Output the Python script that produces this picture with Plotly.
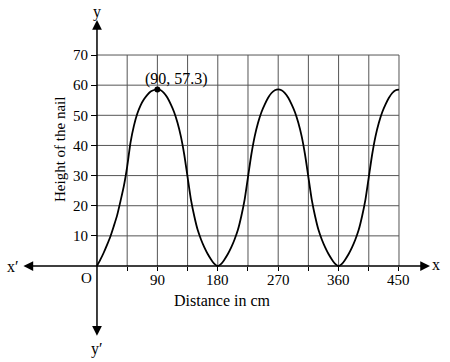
import plotly.graph_objects as go

# ---- data ----
distance_cm = list(range(0, 451, 5))
height = [
    0, 2.1, 4.4, 7, 9.8, 13.2, 16.8, 21.5, 26.5, 33, 41, 46.5, 50.5, 53.3, 55.3, 56.8, 57.9, 58.4, 58.6,
    58.3, 57.4, 55.8, 53.6, 51, 47.5, 43, 37, 29.5, 22, 16.5, 12, 8.8, 6.2, 4, 2.2, 0.7, 0,
    0.7, 2.2, 4, 6.2, 8.8, 12, 16.5, 22, 29.5, 37, 43, 47.5, 51, 53.6, 55.8, 57.4, 58.3, 58.6,
    58.3, 57.4, 55.8, 53.6, 51, 47.5, 43, 37, 29.5, 22, 16.5, 12, 8.8, 6.2, 4, 2.2, 0.7, 0,
    0.7, 2.2, 4, 6.2, 8.8, 12, 16.5, 22, 29.5, 37, 43, 47.5, 51, 53.6, 55.8, 57.4, 58.3, 58.5,
]
peak_x = [90]
peak_y = [58.6]
peak_label = "(90, 57.3)"

x_grid = [45, 90, 135, 180, 225, 270, 315, 360, 405, 450]
x_tick_text = ["", "90", "", "180", "", "270", "", "360", "", "450"]
y_grid = [10, 20, 30, 40, 50, 60, 70]
y_tick_text = ["10", "20", "30", "40", "50", "60", "70"]

x_title = "Distance in cm"
y_title = "Height of the nail"

FONT = "Liberation Serif, Times New Roman, serif"
W, H = 450, 362
X_RANGE = [-144.5, 526.0]
Y_RANGE = [-31.85, 88.26]

fig = go.Figure()

fig.add_trace(go.Scatter(
    x=distance_cm, y=height, mode="lines",
    line=dict(color="black", width=1.8, shape="spline", smoothing=0.6),
    hoverinfo="skip", showlegend=False,
))
fig.add_trace(go.Scatter(
    x=peak_x, y=peak_y, mode="markers",
    marker=dict(color="black", size=6),
    hoverinfo="skip", showlegend=False,
))

shapes = []
for gx in x_grid:
    shapes.append(dict(type="line", xref="x", yref="y", x0=gx, x1=gx, y0=0, y1=max(y_grid),
                       line=dict(color="#555555", width=1), layer="below"))
for gy in y_grid:
    shapes.append(dict(type="line", xref="x", yref="y", x0=0, x1=max(x_grid), y0=gy, y1=gy,
                       line=dict(color="#555555", width=1), layer="below"))

annotations = [
    # axes with arrows at both ends
    dict(x=496.2, y=0, ax=-111.8, ay=0, xref="x", yref="y", axref="x", ayref="y",
         text="", showarrow=True, arrowhead=2, arrowside="end+start",
         arrowsize=1.3, arrowwidth=1.5, arrowcolor="black", standoff=0, startstandoff=0),
    dict(x=0, y=81.6, ax=0, ay=-23.6, xref="x", yref="y", axref="x", ayref="y",
         text="", showarrow=True, arrowhead=2, arrowside="end+start",
         arrowsize=1.3, arrowwidth=1.5, arrowcolor="black", standoff=0, startstandoff=0),
    dict(x=-125.2, y=0, xref="x", yref="y", text="x′", showarrow=False,
         font=dict(family=FONT, size=16, color="black")),
    dict(x=505.5, y=0.6, xref="x", yref="y", text="x", showarrow=False,
         font=dict(family=FONT, size=16, color="black")),
    dict(x=0, y=84.3, xref="x", yref="y", text="y", showarrow=False,
         font=dict(family=FONT, size=16, color="black")),
    dict(x=0, y=-27.5, xref="x", yref="y", text="y′", showarrow=False,
         font=dict(family=FONT, size=16, color="black")),
    dict(x=-14.9, y=-4.0, xref="x", yref="y", text="O", showarrow=False,
         font=dict(family=FONT, size=15, color="black")),
    dict(x=peak_x[0], y=peak_y[0], xref="x", yref="y", text=peak_label, showarrow=False,
         xshift=19, yshift=10, font=dict(family=FONT, size=16, color="black")),
    dict(x=186.3, y=-11.3, xref="x", yref="y", text=x_title, showarrow=False,
         font=dict(family=FONT, size=16, color="black")),
    dict(x=-55.1, y=38.5, xref="x", yref="y", text=y_title, showarrow=False, textangle=-90,
         font=dict(family=FONT, size=15, color="black")),
]
# x tick labels (placed just under the axis)
for gx, lbl in zip(x_grid, x_tick_text):
    if lbl:
        annotations.append(dict(x=gx, y=0, xref="x", yref="y", text=lbl, showarrow=False,
                                yanchor="middle", yshift=-14,
                                font=dict(family=FONT, size=15, color="black")))

fig.update_layout(
    width=W, height=H,
    margin=dict(l=0, r=0, t=0, b=0),
    paper_bgcolor="white", plot_bgcolor="white",
    shapes=shapes, annotations=annotations,
    font=dict(family=FONT, size=15, color="black"),
    xaxis=dict(range=X_RANGE, anchor="free", position=(-Y_RANGE[0]) / (Y_RANGE[1] - Y_RANGE[0]),
               showgrid=False, zeroline=False, showline=False,
               tickmode="array", tickvals=x_grid, showticklabels=False,
               ticks="outside", ticklen=4, tickwidth=1, tickcolor="black", fixedrange=True),
    yaxis=dict(range=Y_RANGE, anchor="free", position=(-X_RANGE[0]) / (X_RANGE[1] - X_RANGE[0]),
               showgrid=False, zeroline=False, showline=False,
               tickmode="array", tickvals=y_grid, ticktext=y_tick_text,
               ticks="outside", ticklen=6, tickwidth=1, tickcolor="black",
               tickfont=dict(family=FONT, size=15, color="black"), fixedrange=True),
)

fig.write_html("out.html", config={"displayModeBar": False},
               post_script="document.body.style.margin='0';")
